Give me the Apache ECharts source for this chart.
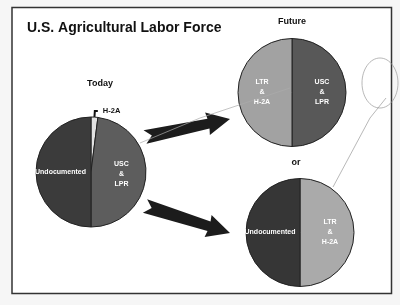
<!DOCTYPE html>
<html>
<head>
<meta charset="utf-8">
<script src="https://cdn.jsdelivr.net/npm/echarts@6/dist/echarts.min.js"></script>
<style>
html,body{margin:0;padding:0;background:#f6f6f6;}
#chart{width:400px;height:305px;}
</style>
</head>
<body>
<div id="chart"></div>
<script>
// ---- data ----
var title = 'U.S. Agricultural Labor Force';
var pieTitles = ['Today', 'Future', 'or'];

var todayNames = ['H-2A', 'USC\n&\nLPR', 'Undocumented'];
var todayValues = [2, 48, 50];

var futureNames = ['USC\n&\nLPR', 'LTR\n&\nH-2A'];
var futureValues = [50, 50];

var altNames = ['LTR\n&\nH-2A', 'Undocumented'];
var altValues = [50, 50];

// ---- styles ----
var C = {
  undoc: '#3b3b3b', usc: '#5d5d5d', h2a: '#e2e2e2',
  futUsc: '#585858', futLtr: '#a2a2a2',
  altUndoc: '#363636', altLtr: '#aaaaaa'
};

function mk(names, values, colors) {
  return names.map(function (n, i) {
    return { name: n, value: values[i], itemStyle: { color: colors[i] } };
  });
}

var insideLabel = {
  show: true, position: 'inside', color: '#fff', fontFamily: 'Liberation Sans',
  fontWeight: 'bold', fontSize: 7, lineHeight: 10, formatter: '{b}'
};

function arrow(x0, y0, x1, y1) {
  var dx = x1 - x0, dy = y1 - y0, L = Math.sqrt(dx * dx + dy * dy);
  var ux = dx / L, uy = dy / L, nx = -uy, ny = ux;
  var local = [[0, -7], [L - 22, -5], [L - 23, -11.5], [L, 0], [L - 23, 11.5], [L - 22, 5], [0, 7], [7, 0]];
  return local.map(function (p) {
    return [x0 + ux * p[0] + nx * p[1], y0 + uy * p[0] + ny * p[1]];
  });
}

var chart = echarts.init(document.getElementById('chart'), null, { renderer: 'canvas' });
chart.setOption({
  animation: false,
  backgroundColor: '#f6f6f6',
  graphic: [
    { type: 'rect', shape: { x: 12, y: 7.5, width: 379.5, height: 286 }, style: { fill: '#fff', stroke: '#333', lineWidth: 1.5 }, z: -10 },
    { type: 'text', left: 27, top: 21, style: { text: title, font: 'bold 14px "Liberation Sans"', fill: '#111' } },
    { type: 'text', x: 100, y: 84, style: { text: pieTitles[0], font: 'bold 9px "Liberation Sans"', fill: '#111', align: 'center', verticalAlign: 'middle' } },
    { type: 'text', x: 292, y: 22, style: { text: pieTitles[1], font: 'bold 9px "Liberation Sans"', fill: '#111', align: 'center', verticalAlign: 'middle' } },
    { type: 'text', x: 296, y: 163, style: { text: pieTitles[2], font: 'bold 9px "Liberation Sans"', fill: '#111', align: 'center', verticalAlign: 'middle' } },
    { type: 'polygon', shape: { points: arrow(145, 137, 230, 119) }, style: { fill: '#1c1c1c' } },
    { type: 'polygon', shape: { points: arrow(145, 206, 230, 233) }, style: { fill: '#1c1c1c' } },
    { type: 'polyline', shape: { points: [[140, 143], [200, 118], [290, 88]] }, style: { stroke: '#aaa', lineWidth: 0.7, fill: null }, z: 20 },
    { type: 'ellipse', shape: { cx: 380, cy: 83, rx: 18, ry: 25 }, style: { stroke: '#999', lineWidth: 0.7, fill: null }, z: 20 },
    { type: 'polyline', shape: { points: [[386, 98], [370, 118], [333, 187]] }, style: { stroke: '#999', lineWidth: 0.7, fill: null }, z: 20 }
  ],
  series: [
    {
      type: 'pie', center: [91, 172], radius: 55, startAngle: 90, clockwise: true,
      silent: true,
      itemStyle: { borderColor: '#222', borderWidth: 1 },
      label: insideLabel,
      data: mk(todayNames, todayValues, [C.h2a, C.usc, C.undoc]).map(function (d, i) {
        if (i === 0) {
          d.label = { show: true, position: 'outside', color: '#111', fontFamily: 'Liberation Sans', fontWeight: 'bold', fontSize: 7.5 };
          d.labelLine = { show: true, length: 6, length2: 3, lineStyle: { color: '#111', width: 2 } };
        }
        return d;
      })
    },
    {
      type: 'pie', center: [292, 92.5], radius: 54, startAngle: 90, clockwise: true,
      silent: true,
      itemStyle: { borderColor: '#222', borderWidth: 1 },
      label: insideLabel, labelLine: { show: false },
      data: mk(futureNames, futureValues, [C.futUsc, C.futLtr])
    },
    {
      type: 'pie', center: [300, 232.5], radius: 54, startAngle: 90, clockwise: true,
      silent: true,
      itemStyle: { borderColor: '#222', borderWidth: 1 },
      label: insideLabel, labelLine: { show: false },
      data: mk(altNames, altValues, [C.altLtr, C.altUndoc])
    }
  ]
});
</script>
</body>
</html>
